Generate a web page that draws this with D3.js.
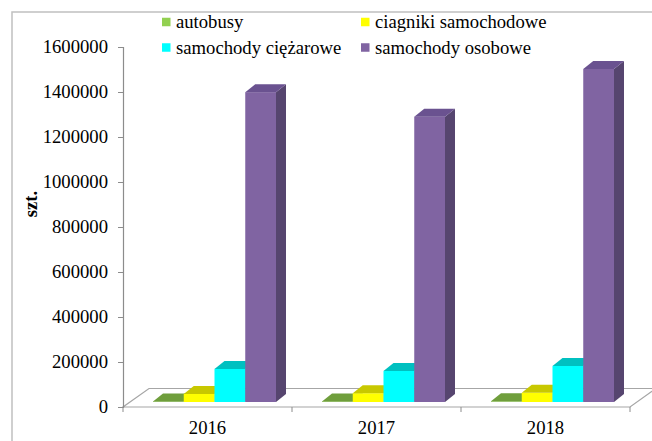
<!DOCTYPE html>
<html>
<head>
<meta charset="utf-8">
<script src="https://cdn.jsdelivr.net/npm/d3@7"></script>
<style>
  html, body { margin: 0; padding: 0; background: #fff; }
  svg { display: block; }
  text { font-family: "Liberation Serif", "Times New Roman", serif; fill: #000; }
</style>
</head>
<body>
<svg id="chart" width="652" height="441"></svg>
<script>
// Vehicle registrations by type and year
const years = ["2016", "2017", "2018"];
const seriesNames = ["autobusy", "ciagniki samochodowe", "samochody ciężarowe", "samochody osobowe"];
const autobusy = [2600, 2700, 2900];
const ciagniki = [36000, 39000, 41000];
const ciezarowe = [147000, 138000, 160000];
const osobowe = [1377000, 1268000, 1480000];
const yTicks = [0, 200000, 400000, 600000, 800000, 1000000, 1200000, 1400000, 1600000];

const seriesValues = [autobusy, ciagniki, ciezarowe, osobowe];
// face colours per series: front, side, top
const faceColors = [
  { legend: "#92D050", front: "#80b848", side: "#5e8a30", top: "#6f9e3c" },
  { legend: "#FFFF00", front: "#FFFF00", side: "#b8b800", top: "#c8c800" },
  { legend: "#00FFFF", front: "#00FFFF", side: "#00b0b0", top: "#00c0c0" },
  { legend: "#8064A2", front: "#8064A2", side: "#56456f", top: "#6a5290" }
];

const axisFont = "18.67px";
const legendFont = "18.67px";

const svg = d3.select("#chart");

// outer chart frame
svg.append("rect")
  .attr("x", 12).attr("y", 12).attr("width", 720).attr("height", 520)
  .attr("fill", "none").attr("stroke", "#c0c0c0").attr("stroke-width", 1.5);

// scales
const x0 = d3.scaleBand().domain(years).range([123, 630]).paddingInner(0).paddingOuter(0);
const x1 = d3.scaleBand().domain(seriesNames).range([0, x0.bandwidth()]).paddingInner(0).paddingOuter(0.748);
const y = d3.scaleLinear().domain([0, 1600000]).range([407, 47]);

// oblique projection offsets
const floorDepth = { dx: 26, dy: -18.5 };
const barOffset = { dx: 7, dy: -5 };
const barDepth = { dx: 10, dy: -8 };

// floor outline
const fx0 = x0.range()[0], fx1 = x0.range()[1], fy = y(0);
svg.append("path")
  .attr("d", `M${fx0},${fy} L${fx1},${fy} L${fx1 + floorDepth.dx},${fy + floorDepth.dy} L${fx0 + floorDepth.dx},${fy + floorDepth.dy} Z`)
  .attr("fill", "#fff").attr("stroke", "#a6a6a6").attr("stroke-width", 1.2);

// category axis ticks and labels
const catTicks = [fx0].concat(years.map(d => x0(d) + x0.bandwidth()));
svg.append("g").selectAll("line").data(catTicks).join("line")
  .attr("x1", d => d).attr("x2", d => d)
  .attr("y1", fy).attr("y2", fy + 5)
  .attr("stroke", "#8c8c8c").attr("stroke-width", 1);
svg.append("g").selectAll("text").data(years).join("text")
  .attr("x", d => x0(d) + x0.bandwidth() / 2)
  .attr("y", 434)
  .attr("text-anchor", "middle")
  .attr("font-size", axisFont)
  .text(d => d);

// value axis
const yAxis = d3.axisLeft(y).tickValues(yTicks).tickSize(5).tickPadding(10).tickFormat(d3.format("d"));
const yg = svg.append("g").attr("transform", `translate(${fx0},0)`).call(yAxis);
yg.select(".domain").attr("stroke", "#8c8c8c").attr("stroke-width", 1.2);
yg.selectAll(".tick line").attr("stroke", "#8c8c8c");
yg.selectAll(".tick text")
  .attr("font-family", "'Liberation Serif', 'Times New Roman', serif")
  .attr("font-size", axisFont).attr("fill", "#000");

// axis title
svg.append("text")
  .attr("transform", "translate(37,204) rotate(-90)")
  .attr("text-anchor", "middle")
  .attr("font-size", axisFont)
  .attr("font-weight", "bold")
  .text("szt.");

// bars
const barsG = svg.append("g");
years.forEach((yr, i) => {
  seriesNames.forEach((s, j) => {
    const v = seriesValues[j][i];
    const c = faceColors[j];
    const w = x1.bandwidth();
    const x = x0(yr) + x1(s) + barOffset.dx;
    const yb = y(0) + barOffset.dy;
    const yt = y(v) + barOffset.dy;
    const dx = barDepth.dx, dy = barDepth.dy;
    const g = barsG.append("g");
    g.append("path")
      .attr("d", `M${x + w},${yb} L${x + w + dx},${yb + dy} L${x + w + dx},${yt + dy} L${x + w},${yt} Z`)
      .attr("fill", c.side);
    g.append("rect")
      .attr("x", x).attr("y", yt).attr("width", w).attr("height", Math.max(0, yb - yt))
      .attr("fill", c.front);
    g.append("path")
      .attr("d", `M${x},${yt} L${x + dx},${yt + dy} L${x + w + dx},${yt + dy} L${x + w},${yt} Z`)
      .attr("fill", c.top);
  });
});

// legend (two rows, two columns)
const legendPos = [
  { x: 162, y: 22 }, { x: 361, y: 22 },
  { x: 162, y: 47.5 }, { x: 361, y: 47.5 }
];
const lg = svg.append("g").selectAll("g").data(seriesNames).join("g")
  .attr("transform", (d, i) => `translate(${legendPos[i].x},${legendPos[i].y})`);
lg.append("rect")
  .attr("x", 0).attr("y", -4.25).attr("width", 8.5).attr("height", 8.5)
  .attr("fill", (d, i) => faceColors[i].legend);
lg.append("text")
  .attr("x", 14).attr("y", 6)
  .attr("font-size", legendFont)
  .text(d => d);
</script>
</body>
</html>
